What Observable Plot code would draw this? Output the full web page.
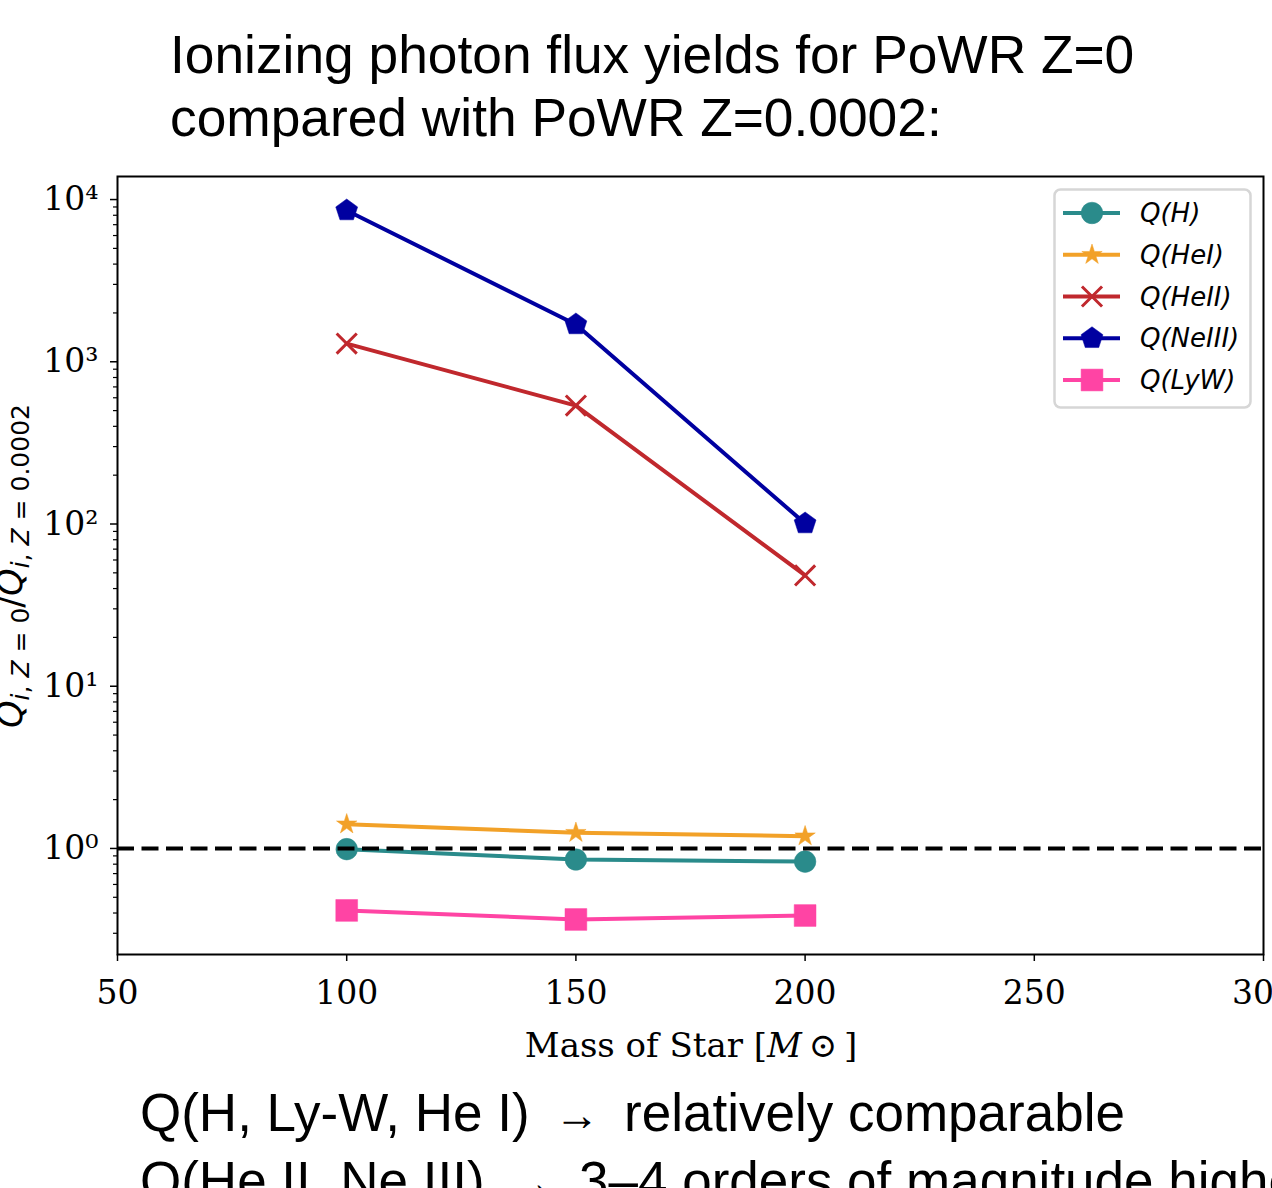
<!DOCTYPE html>
<html><head><meta charset="utf-8">
<script src="https://cdn.jsdelivr.net/npm/d3@7"></script>
<script src="https://cdn.jsdelivr.net/npm/@observablehq/plot@0.6"></script>
<style>
html,body{margin:0;padding:0;background:#fff;}
body{width:1272px;height:1188px;overflow:hidden;position:relative;font-family:"Liberation Sans",Arial,sans-serif;color:#000;}
#title{position:absolute;left:170px;top:23px;font-size:53.3px;line-height:63px;white-space:nowrap;}
#chart{position:absolute;left:0;top:160px;}
#notes{position:absolute;left:140px;top:1080px;font-size:53px;line-height:66px;white-space:nowrap;}
#notes .arr{font-size:45px;margin:0 10px;vertical-align:0.02em;}
#xlabel{position:absolute;left:691px;top:1028px;transform:translateX(-50%);font-family:"DejaVu Serif",serif;font-size:34px;line-height:1;white-space:nowrap;}
#ylabel{position:absolute;left:13px;top:566px;transform:translate(-50%,-50%) rotate(-90deg);font-family:"DejaVu Sans",sans-serif;font-size:35px;line-height:1;white-space:nowrap;}
#ylabel sub{font-size:25px;vertical-align:-0.3em;font-style:normal;}
#legend{position:absolute;left:1053px;top:188px;}
</style>
</head><body>
<div id="title">Ionizing photon flux yields for PoWR Z=0<br>compared with PoWR Z=0.0002:</div>
<div id="chart"></div>
<div id="ylabel"><i>Q</i><sub><i>i</i>, <i>Z</i> = 0</sub>/<i>Q</i><sub><i>i</i>, <i>Z</i> = 0.0002</sub></div>
<div id="xlabel">Mass of Star [<i>M</i>&#8201;⊙&#8201;]</div>
<div id="legend"></div>
<div id="notes">Q(H, Ly-W, He I) <span class="arr">→</span> relatively comparable<br>Q(He II, Ne III) <span class="arr">→</span> 3–4 orders of magnitude higher</div>
<script>
// ---- data ----
const masses = [100, 150, 200];
const seriesNames = ["Q(H)", "Q(HeI)", "Q(HeII)", "Q(NeIII)", "Q(LyW)"];
const qH     = [0.99, 0.855, 0.83];
const qHeI   = [1.41, 1.25, 1.19];
const qHeII  = [1295, 537, 48.2];
const qNeIII = [8560, 1698, 100.7];
const qLyW   = [0.415, 0.365, 0.386];
const seriesValues = [qH, qHeI, qHeII, qNeIII, qLyW];
const seriesColors = ["#2a8b8b", "#f2a128", "#c0282d", "#0000a0", "#ff44a4"];
const xTicks = [50, 100, 150, 200, 250, 300];
const yTicks = [1, 10, 100, 1000, 10000];
const referenceLevel = [1];

// ---- symbols ----
const symbolPentagon = {
  draw(ctx, size) {
    const R = Math.sqrt(size / Math.PI);
    for (let i = 0; i < 5; i++) {
      const a = -Math.PI / 2 + i * 2 * Math.PI / 5;
      const x = R * Math.cos(a), y = R * Math.sin(a);
      if (i === 0) ctx.moveTo(x, y); else ctx.lineTo(x, y);
    }
    ctx.closePath();
  }
};
const seriesSymbols = [d3.symbolCircle, d3.symbolStar, d3.symbolTimes, symbolPentagon, d3.symbolSquare];
const seriesR = [10.8, 6.4, 9.2, 11.5, 12.3];
const seriesFilled = [true, true, false, true, true];

const rows = [];
seriesNames.forEach((s, i) => masses.forEach((m, j) => rows.push({series: s, idx: i, mass: m, value: seriesValues[i][j]})));

const sup = {"0":"⁰","1":"¹","2":"²","3":"³","4":"⁴","-":"⁻"};
const fmtPow = d => "10" + String(Math.round(Math.log10(d))).split("").map(c => sup[c]).join("");

const yDomain = [0.222, 13870];
const minorTicks = [];
for (let k = -1; k <= 4; k++) for (let m = 2; m <= 9; m++) {
  const v = m * Math.pow(10, k);
  if (v >= yDomain[0] && v <= yDomain[1]) minorTicks.push(v);
}

const lineW = 4;
const marks = [
  Plot.frame({stroke: "#000", strokeWidth: 2}),
  Plot.axisX({ticks: xTicks, tickSize: 7, tickPadding: 19, strokeWidth: 1.5, tickFormat: d => String(d), label: null}),
  Plot.axisY({ticks: yTicks, tickSize: 7, tickPadding: 12, strokeWidth: 1.5, tickFormat: fmtPow, label: null}),
  Plot.axisY({ticks: minorTicks, tickSize: 4, strokeWidth: 1.2, tickFormat: () => "", label: null}),
];
seriesNames.forEach((s, i) => {
  const data = rows.filter(r => r.idx === i);
  marks.push(Plot.line(data, {x: "mass", y: "value", stroke: seriesColors[i], strokeWidth: lineW}));
});
seriesNames.forEach((s, i) => {
  const data = rows.filter(r => r.idx === i);
  marks.push(Plot.dot(data, {
    x: "mass", y: "value", symbol: () => seriesSymbols[i], r: seriesR[i],
    fill: seriesFilled[i] ? seriesColors[i] : "none",
    stroke: seriesColors[i], strokeWidth: seriesFilled[i] ? 0.5 : 3
  }));
});
marks.push(Plot.ruleY(referenceLevel, {stroke: "#000", strokeWidth: 4, strokeDasharray: "17,7.5"}));

const chart = Plot.plot({
  width: 1272, height: 910,
  marginLeft: 117, marginRight: 9, marginTop: 16, marginBottom: 116,
  style: {fontFamily: "DejaVu Serif, serif", fontSize: "33px", color: "#000", background: "transparent", overflow: "visible"},
  x: {domain: [50, 300]},
  y: {type: "log", domain: yDomain},
  marks
});
document.getElementById("chart").appendChild(chart);

// ---- legend ----
const lw = 199, lh = 221, rowH = 41.75;
const lsvg = d3.select("#legend").append("svg").attr("width", lw).attr("height", lh);
lsvg.append("rect").attr("x", 1.5).attr("y", 1.5).attr("width", lw - 3).attr("height", lh - 3)
  .attr("rx", 6).attr("fill", "#fff").attr("fill-opacity", 0.85).attr("stroke", "#d6d6d6").attr("stroke-width", 2.5);
seriesNames.forEach((s, i) => {
  const cy = 25 + i * rowH;
  const g = lsvg.append("g");
  g.append("line").attr("x1", 10).attr("x2", 67).attr("y1", cy).attr("y2", cy)
    .attr("stroke", seriesColors[i]).attr("stroke-width", lineW);
  g.append("path").attr("transform", `translate(39,${cy})`)
    .attr("d", d3.symbol(seriesSymbols[i], seriesR[i] * seriesR[i] * Math.PI)())
    .attr("fill", seriesFilled[i] ? seriesColors[i] : "none")
    .attr("stroke", seriesColors[i]).attr("stroke-width", seriesFilled[i] ? 0.5 : 3);
  g.append("text").attr("x", 87).attr("y", cy).attr("dy", "0.35em")
    .attr("font-family", "DejaVu Sans, sans-serif").attr("font-style", "italic").attr("font-size", 26)
    .text(s);
});
</script>
</body></html>
